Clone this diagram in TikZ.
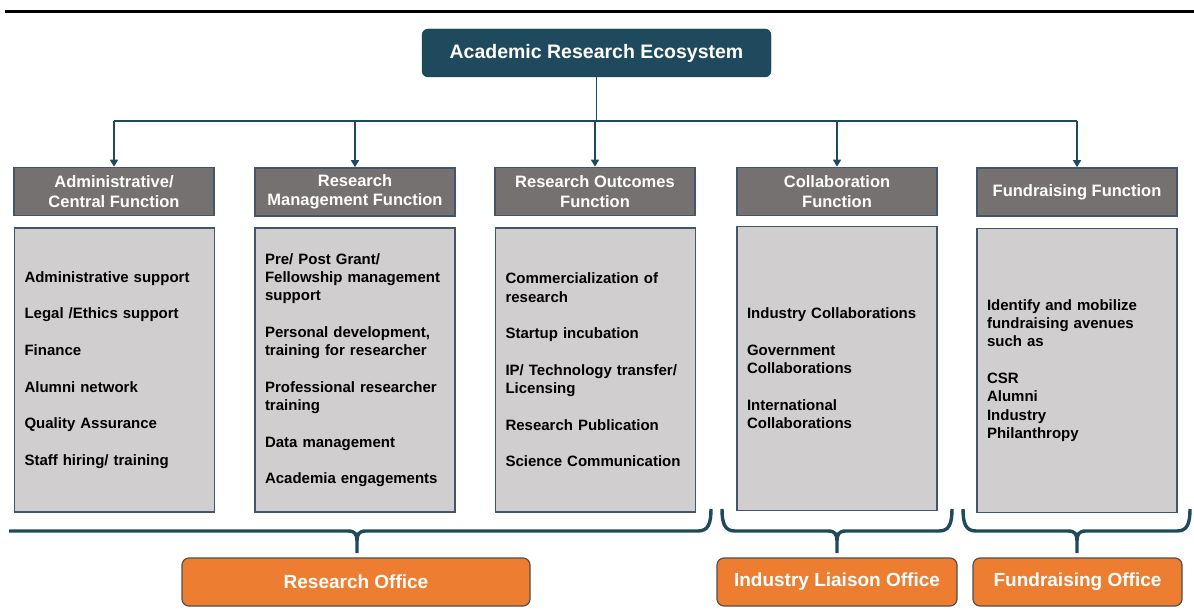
\documentclass[tikz,border=0pt]{standalone}
\usepackage{fontspec}
\setmainfont{Liberation Sans}
\usepackage{xcolor}
\definecolor{ecoteal}{RGB}{31,73,92}
\definecolor{headgrey}{RGB}{118,113,113}
\definecolor{bodygrey}{RGB}{208,206,206}
\definecolor{boxedge}{RGB}{68,84,106}
\definecolor{offorange}{RGB}{237,125,49}
\definecolor{offedge}{RGB}{80,80,80}
\usepackage{tikz}
\usetikzlibrary{arrows.meta}
\hyphenpenalty=10000
\newcommand{\nextitem}{\\[18.3pt]}
\tikzset{
  eco/.style={draw=ecoteal!85!black, fill=ecoteal, rounded corners=6pt, text=white, minimum width=349pt, minimum height=48pt, font=\fontsize{19.5}{22}\selectfont\bfseries},
  fhead/.style={draw=boxedge, line width=1.6pt, fill=headgrey, text=white, align=center, minimum width=200pt, minimum height=48pt, inner sep=2pt, font=\fontsize{16.5}{19.5}\selectfont\bfseries},
  fbody/.style={draw=boxedge, line width=1.2pt, fill=bodygrey, align=left, text width=180pt, inner xsep=10pt, minimum width=200pt, minimum height=284pt, font=\fontsize{15}{18.3}\selectfont\bfseries},
  office/.style={draw=offedge, line width=1.2pt, fill=offorange, rounded corners=7pt, text=white, minimum height=48pt, font=\fontsize{19}{22}\selectfont\bfseries},
  conn/.style={draw=ecoteal, line width=1.4pt},
  arr/.style={conn, -{Triangle[width=8pt,length=7pt]}},
  bracket/.style={draw=ecoteal, line width=3.4pt}
}

\begin{document}
\begin{tikzpicture}[x=1pt, y=-1pt]
  \useasboundingbox (0,0) rectangle (1194,610);
  \draw[line width=3pt] (5,12) -- (1194,12);

  \node[eco] (eco) at (596.5,53) {Academic Research Ecosystem};

  % function headers
  \node[fhead] (h1) at (114,191.5) {Administrative/\\Central Function};
  \node[fhead] (h2) at (355,192) {Research\\Management Function};
  \node[fhead] (h3) at (595,191.5) {Research Outcomes\\Function};
  \node[fhead] (h4) at (837,191.5) {Collaboration\\Function};
  \node[fhead] (h5) at (1077,192) {Fundraising Function};

  % what each function covers
  \node[fbody] (b1) at (114.5,370) {Administrative support\nextitem Legal /Ethics support\nextitem Finance\nextitem Alumni network\nextitem Quality Assurance\nextitem Staff hiring/ training};
  \node[fbody] (b2) at (355,370) {Pre/ Post Grant/\\Fellowship management\\support\nextitem Personal development,\\training for researcher\nextitem Professional researcher\\training\nextitem Data management\nextitem Academia engagements};
  \node[fbody] (b3) at (595.5,370) {Commercialization of\\research\nextitem Startup incubation\nextitem IP/ Technology transfer/\\Licensing\nextitem Research Publication\nextitem Science Communication};
  \node[fbody] (b4) at (837,368.5) {Industry Collaborations\nextitem Government\\Collaborations\nextitem International\\Collaborations};
  \node[fbody] (b5) at (1077,370.5) {Identify and mobilize\\fundraising avenues\\such as\nextitem CSR\\Alumni\\Industry\\Philanthropy};

  % offices
  \node[office, minimum width=348pt] (ro) at (356,582) {Research Office};
  \node[office, minimum width=240pt] (il) at (837,582) {Industry Liaison Office};
  \node[office, minimum width=209pt] (fo) at (1077.5,582) {Fundraising Office};

  % tree from the ecosystem to the functions
  \coordinate (bus) at (596.5,121);
  \draw[conn] (eco.south) -- (bus);
  \draw[conn] (bus -| h1.north) -- (bus -| h5.north);
  \foreach \h in {h1,h2,h3,h4,h5}
    \draw[arr] (bus -| \h.north) -- (\h.north);

  % brackets grouping functions under each office
  \draw[bracket] (9,531) -- (348,531) .. controls (355,531) and (357,534) .. (357,541) -- (357,553)
    (357,541) .. controls (357,534) and (359,531) .. (366,531) -- (698,531) .. controls (708,531) and (711,524) .. (711,509);
  \draw[bracket] (722,509) .. controls (722,524) and (725,531) .. (735,531) -- (828,531) .. controls (835,531) and (837,534) .. (837,541) -- (837,553)
    (837,541) .. controls (837,534) and (839,531) .. (846,531) -- (939,531) .. controls (949,531) and (952,524) .. (952,509);
  \draw[bracket] (963,509) .. controls (963,524) and (966,531) .. (976,531) -- (1068,531) .. controls (1075,531) and (1077,534) .. (1077,541) -- (1077,553)
    (1077,541) .. controls (1077,534) and (1079,531) .. (1086,531) -- (1177,531) .. controls (1187,531) and (1190,524) .. (1190,509);
\end{tikzpicture}
\end{document}
